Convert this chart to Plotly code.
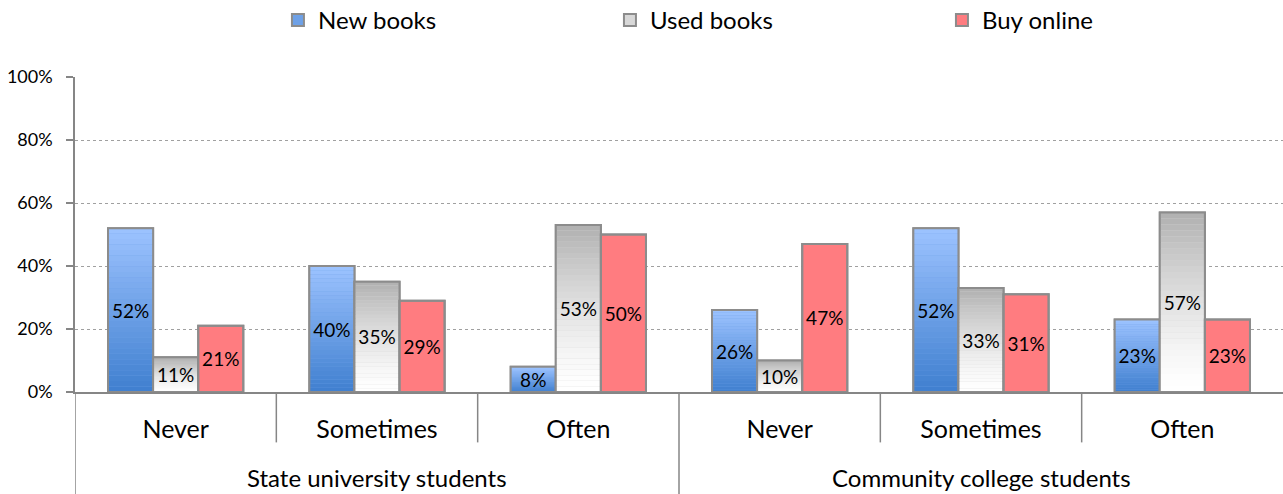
import plotly.graph_objects as go

# ---- data ----
groups = ["State university students", "Community college students"]
categories = ["Never", "Sometimes", "Often"]
series_names = ["New books", "Used books", "Buy online"]
new_books = [52, 40, 8, 26, 52, 23]
used_books = [11, 35, 53, 10, 33, 57]
buy_online = [21, 29, 50, 47, 31, 23]
y_ticks = [0, 20, 40, 60, 80, 100]

# ---- style ----
FONT = "Lato, sans-serif"
OUTLINE = "#8c8c8c"
AXIS = "#868686"
W = 0.224
N_SLICES = 30

x_pos = list(range(len(groups) * len(categories)))
tick_text = categories * len(groups)


def lerp(c1, c2, t):
    return "rgb(%d,%d,%d)" % tuple(round(a + (b - a) * t) for a, b in zip(c1, c2))


# (name, values, bottom colour, top colour, offset, gradient curve exponent)
series = [
    (series_names[0], new_books, (63, 127, 207), (157, 195, 255), -1.5 * W, 1.0),
    (series_names[1], used_books, (255, 255, 255), (176, 176, 176), -0.5 * W, 1.4),
    (series_names[2], buy_online, (255, 124, 128), (255, 124, 128), 0.5 * W, 1.0),
]

fig = go.Figure()
for name, vals, c_bot, c_top, off, expo in series:
    mid = lerp(c_bot, c_top, 0.5)
    # base full bar (legend entry)
    fig.add_trace(go.Bar(
        x=x_pos, y=vals, name=name, width=W, offset=off,
        marker=dict(color=mid, line=dict(color=OUTLINE, width=2)),
        showlegend=True, hoverinfo="skip",
    ))
    if c_bot != c_top:
        for k in range(N_SLICES):
            t = ((k + 0.5) / N_SLICES) ** expo
            fig.add_trace(go.Bar(
                x=x_pos, y=[v / N_SLICES for v in vals],
                base=[v * k / N_SLICES for v in vals],
                width=W, offset=off,
                marker=dict(color=lerp(c_bot, c_top, t), line=dict(width=0)),
                showlegend=False, hoverinfo="skip",
            ))
    # outline + labels
    fig.add_trace(go.Bar(
        x=x_pos, y=vals, width=W, offset=off,
        marker=dict(color="rgba(0,0,0,0)", line=dict(color=OUTLINE, width=2)),
        text=[f"{v}%" for v in vals], textposition="inside",
        insidetextanchor="middle", textangle=0, constraintext="none",
        textfont=dict(family=FONT, size=19, color="black"),
        showlegend=False, hoverinfo="skip",
    ))

shapes = []
# outer dividers
for xd in [-0.5, 2.5]:
    shapes.append(dict(type="line", xref="x", yref="paper", x0=xd, x1=xd,
                       y0=0, y1=-0.33, line=dict(color=AXIS, width=1.5)))
# inner dividers
for xd in [0.5, 1.5, 3.5, 4.5]:
    shapes.append(dict(type="line", xref="x", yref="paper", x0=xd, x1=xd,
                       y0=0, y1=-0.16, line=dict(color=AXIS, width=1.5)))

annotations = []
for gi, g in enumerate(groups):
    annotations.append(dict(
        x=gi * len(categories) + (len(categories) - 1) / 2, xref="x",
        y=-0.273, yref="paper", yanchor="middle", showarrow=False,
        text=g, font=dict(family=FONT, size=24, color="black"),
    ))

fig.update_layout(
    barmode="overlay",
    width=1283, height=494,
    margin=dict(l=75, r=0, t=77, b=102, autoexpand=False),
    paper_bgcolor="white", plot_bgcolor="white",
    font=dict(family=FONT, color="black"),
    shapes=shapes, annotations=annotations,
    legend=dict(orientation="h", x=0.168, xanchor="left", y=1.18, yanchor="middle",
                font=dict(family=FONT, size=24), entrywidth=287,
                traceorder="normal"),
    xaxis=dict(range=[-0.5, 5.5], tickvals=x_pos, ticktext=tick_text,
               showgrid=False, showline=True, linecolor=AXIS, linewidth=1.5,
               ticks="", ticklabelstandoff=14, zeroline=False, automargin=False,
               tickfont=dict(family=FONT, size=25, color="black")),
    yaxis=dict(range=[0, 100], tickvals=y_ticks, ticktext=[f"{v}%" for v in y_ticks],
               showgrid=True, gridcolor="#a0a0a0", griddash="dot", gridwidth=1,
               showline=True, linecolor=AXIS, linewidth=1.5,
               ticks="outside", ticklen=7, tickcolor=AXIS, tickwidth=1.5,
               ticklabelstandoff=10, zeroline=False, automargin=False,
               tickfont=dict(family=FONT, size=18, color="black")),
)

fig.write_html("out.html", config={"displayModeBar": False},
               post_script="document.body.style.margin='0px';")
